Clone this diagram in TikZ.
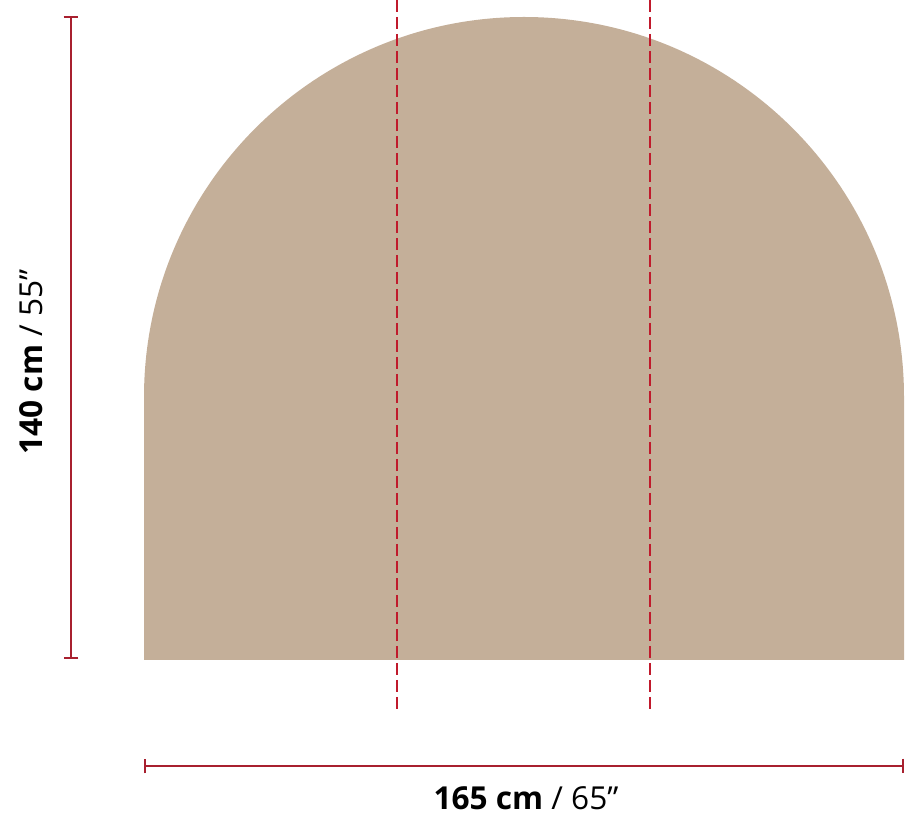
\documentclass[tikz,border=0pt]{standalone}
\usepackage{fontspec}
\setmainfont{Open Sans}
\usetikzlibrary{arrows.meta}
\definecolor{sand}{HTML}{C4AF99}
\definecolor{dimred}{HTML}{A8202F}
\definecolor{cutred}{HTML}{C01A2C}

\begin{document}
\begin{tikzpicture}[x=0.02cm,y=-0.02cm,
	dimline/.style={dimred,line width=1.6*0.02cm,{Bar[width=0.3cm,line width=0.045cm]}-{Bar[width=0.3cm,line width=0.045cm]}},
	dimtext/.style={font=\fontsize{18}{20}\selectfont,inner sep=0pt}]
				\useasboundingbox (0,0) rectangle (920,830);
				\fill[sand] (144,660) -- (144,397) arc (180:360:380) -- (904,660) -- cycle;
				
				\foreach \x/\w in
					{397/2,650/1.2}
					\draw[cutred,line width=\w*0.02cm,dash pattern=on 0.24cm off 0.1cm] (\x,0) -- (\x,713);
				
				\draw[dimline] (71,16) -- (71,659);
				\draw[dimline] (144,766) -- (904,766);
				\node[dimtext,rotate=90] (height) at (31,362) {\textbf{140 cm} / 55”};
				\node[dimtext] (width) at (526,798) {\textbf{165 cm} / 65”};
	\end{tikzpicture}
\end{document}
